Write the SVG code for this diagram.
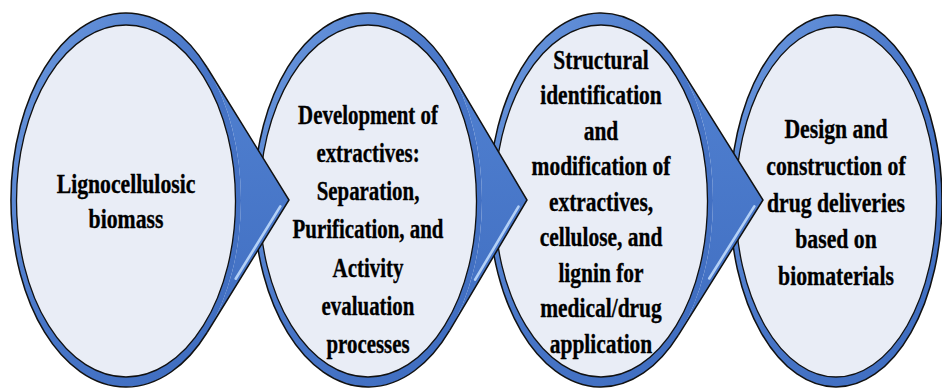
<svg xmlns="http://www.w3.org/2000/svg" width="942" height="388" viewBox="0 0 942 388">
<style>
.band{fill:url(#bandG);stroke:none}
.edge{fill:none;stroke:#111;stroke-width:1.5}
.inner{fill:#E9EDF6;stroke:#111;stroke-width:1.3}
.arrowFill{fill:url(#arrG);stroke:none}
.arrowEdge{fill:none;stroke:#111;stroke-width:1.5;stroke-linejoin:miter}
.hl{stroke:#B3D0F6;stroke-width:2.6;stroke-linecap:round;fill:none}
.t{font-family:"Liberation Serif","Times New Roman",serif;font-weight:bold;font-size:27.5px;text-anchor:middle;fill:#000;stroke:#000;stroke-width:0.35}
</style>
<defs>
<linearGradient id="bandG" x1="0" y1="0" x2="1" y2="1">
<stop offset="0" stop-color="#6E9BE0"/>
<stop offset="0.5" stop-color="#4775C7"/>
<stop offset="1" stop-color="#3E6CBF"/>
</linearGradient>
<linearGradient id="arrG" x1="0" y1="0" x2="0" y2="1">
<stop offset="0" stop-color="#5080D0"/>
<stop offset="1" stop-color="#416FC2"/>
</linearGradient>
</defs>
<rect width="942" height="388" fill="#fff"/>

<g id="node4">
<ellipse class="band" cx="836" cy="201" rx="106" ry="186"/>
<ellipse class="edge" cx="836" cy="201" rx="106" ry="186"/>
<ellipse class="inner" cx="836" cy="202" rx="100.5" ry="175"/>
<g transform="translate(836 0) scale(0.79 1)">
<text class="t" x="0" y="138">Design and</text>
<text class="t" x="0" y="175">construction of</text>
<text class="t" x="0" y="212">drug deliveries</text>
<text class="t" x="0" y="248">based on</text>
<text class="t" x="0" y="285">biomaterials</text>
</g>
</g>

<g id="node3">
<ellipse class="band" cx="601" cy="200" rx="112" ry="187"/>
<path class="edge" d="M678.4,64.9 A112,187 0 1 0 678.4,335.1"/>
<ellipse class="inner" cx="601" cy="201" rx="106.5" ry="176"/>
<g transform="translate(601 0) scale(0.78 1)">
<text class="t" x="0" y="69">Structural</text>
<text class="t" x="0" y="104.5">identification</text>
<text class="t" x="0" y="140">and</text>
<text class="t" x="0" y="175.5">modification of</text>
<text class="t" x="0" y="211">extractives,</text>
<text class="t" x="0" y="246.5">cellulose, and</text>
<text class="t" x="0" y="282">lignin for</text>
<text class="t" x="0" y="317.5">medical/drug</text>
<text class="t" x="0" y="353">application</text>
</g>
</g>

<g id="node2">
<ellipse class="band" cx="368" cy="200" rx="114" ry="187"/>
<path class="edge" d="M449.7,69.6 A114,187 0 1 0 449.7,330.4"/>
<ellipse class="inner" cx="368" cy="201" rx="108.5" ry="176"/>
<g transform="translate(368 0) scale(0.76 1)">
<text class="t" x="0" y="124">Development of</text>
<text class="t" x="0" y="162">extractives:</text>
<text class="t" x="0" y="200">Separation,</text>
<text class="t" x="0" y="238">Purification, and</text>
<text class="t" x="0" y="277">Activity</text>
<text class="t" x="0" y="315">evaluation</text>
<text class="t" x="0" y="353">processes</text>
</g>
</g>

<g id="node1">
<ellipse class="band" cx="126" cy="200" rx="115" ry="187"/>
<path class="edge" d="M207.1,67.5 A115,187 0 1 0 207.1,332.5"/>
<ellipse class="inner" cx="126" cy="201" rx="109.5" ry="176"/>
<g transform="translate(126 0) scale(0.79 1)">
<text class="t" x="0" y="193">Lignocellulosic</text>
<text class="t" x="0" y="228">biomass</text>
</g>
</g>

<g id="connectors">
<g id="c1">
<path class="arrowFill" d="M207.1,67.5 L289,200 L207.1,332.5 A115,187 0 0 0 207.1,67.5 Z"/>
<path class="arrowEdge" d="M207.1,67.5 L289,200 L207.1,332.5"/>
<line class="hl" x1="280.3" y1="206.4" x2="235.7" y2="278.7"/>
</g>
<g id="c2">
<path class="arrowFill" d="M449.7,69.6 L527,200 L449.7,330.4 A114,187 0 0 0 449.7,69.6 Z"/>
<path class="arrowEdge" d="M449.7,69.6 L527,200 L449.7,330.4"/>
<line class="hl" x1="518.5" y1="206.6" x2="475.1" y2="279.7"/>
</g>
<g id="c3">
<path class="arrowFill" d="M678.4,64.9 L763,200 L678.4,335.1 A112,187 0 0 0 678.4,64.9 Z"/>
<path class="arrowEdge" d="M678.4,64.9 L763,200 L678.4,335.1"/>
<line class="hl" x1="754.3" y1="206.4" x2="709.2" y2="278.5"/>
</g>
</g>
</svg>
